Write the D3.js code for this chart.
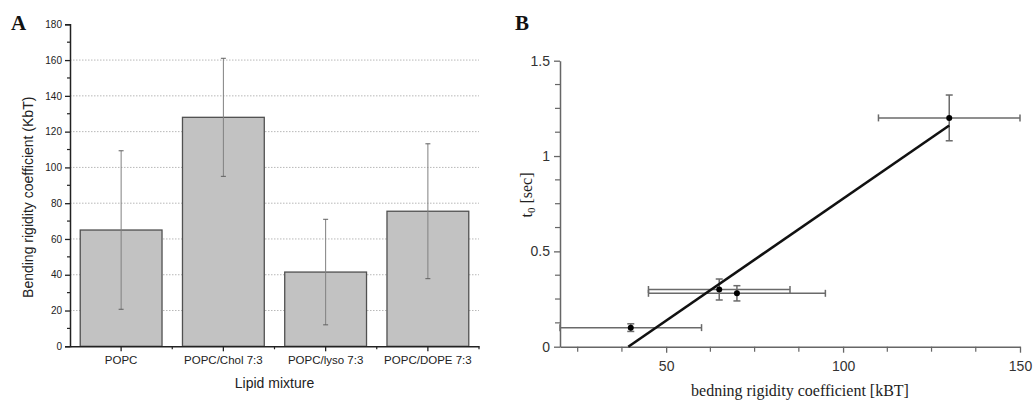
<!DOCTYPE html>
<html>
<head>
<meta charset="utf-8">
<script src="https://cdn.jsdelivr.net/npm/d3@7"></script>
<style>
  html, body { margin: 0; padding: 0; background: #fff; }
  svg { display: block; }
</style>
</head>
<body>
<script>
// ---------- Panel A data ----------
const categories = ["POPC", "POPC/Chol 7:3", "POPC/lyso 7:3", "POPC/DOPE 7:3"];
const bendingMean = [65, 128, 41.5, 75.5];
const bendingErr = [44.3, 33, 29.5, 37.7];
const aYTicks = [0, 20, 40, 60, 80, 100, 120, 140, 160, 180];
const aGridLines = [20, 40, 60, 80, 100, 120, 140, 160];

// ---------- Panel B data ----------
const kappa = [40, 65, 70, 130];
const kappaErr = [20, 20, 25, 20];
const t0 = [0.1, 0.3, 0.28, 1.2];
const t0Err = [0.02, 0.055, 0.04, 0.12];
const fitX = [39.3, 130];
const fitY = [0, 1.16];
const bXMajor = [50, 100, 150];
const bYMajor = [0, 0.5, 1, 1.5];
const bYLabels = ["0", "0.5", "1", "1.5"];

const W = 1035, H = 409;
const svg = d3.select("body").append("svg").attr("width", W).attr("height", H);

// ================= PANEL A =================
const A = { left: 70, right: 479, top: 24.3, bottom: 346.3 };
const ax = d3.scaleBand().domain(categories).range([A.left, A.right]).paddingInner(0.2).paddingOuter(0.1);
const ay = d3.scaleLinear().domain([0, 180]).range([A.bottom, A.top]);
const gA = svg.append("g");

// grid
gA.selectAll("line.grid").data(aGridLines).join("line")
  .attr("x1", A.left).attr("x2", A.right)
  .attr("y1", d => ay(d)).attr("y2", d => ay(d))
  .attr("stroke", "#b8b8b8").attr("stroke-width", 1).attr("stroke-dasharray", "1.5,1.5");

// bars
gA.selectAll("rect.bar").data(categories).join("rect")
  .attr("x", d => ax(d)).attr("width", ax.bandwidth())
  .attr("y", (d, i) => ay(bendingMean[i]))
  .attr("height", (d, i) => ay(0) - ay(bendingMean[i]))
  .attr("fill", "#c2c2c2").attr("stroke", "#505050").attr("stroke-width", 1.3);

// error bars
const aErr = gA.selectAll("g.err").data(categories).join("g");
aErr.append("line")
  .attr("x1", d => ax(d) + ax.bandwidth() / 2).attr("x2", d => ax(d) + ax.bandwidth() / 2)
  .attr("y1", (d, i) => ay(bendingMean[i] + bendingErr[i]))
  .attr("y2", (d, i) => ay(bendingMean[i] - bendingErr[i]))
  .attr("stroke", "#808080").attr("stroke-width", 1);
[1, -1].forEach(s => {
  aErr.append("line")
    .attr("x1", d => ax(d) + ax.bandwidth() / 2 - 2.5).attr("x2", d => ax(d) + ax.bandwidth() / 2 + 2.5)
    .attr("y1", (d, i) => ay(bendingMean[i] + s * bendingErr[i]))
    .attr("y2", (d, i) => ay(bendingMean[i] + s * bendingErr[i]))
    .attr("stroke", "#606060").attr("stroke-width", 1);
});

// y axis A
const ayAxis = gA.append("g").attr("transform", `translate(${A.left},0)`)
  .call(d3.axisLeft(ay).tickValues(aYTicks).tickSize(5).tickPadding(3));
ayAxis.select(".domain").attr("stroke", "#222").attr("stroke-width", 1.5);
ayAxis.selectAll(".tick line").attr("stroke", "#222").attr("stroke-width", 1.3);
ayAxis.selectAll("text").attr("font-family", "Liberation Sans, Arial, sans-serif").attr("font-size", 10).attr("fill", "#222");
const aMinor = d3.range(10, 180, 20);
gA.selectAll("line.yminor").data(aMinor).join("line")
  .attr("x1", A.left - 3).attr("x2", A.left)
  .attr("y1", d => ay(d)).attr("y2", d => ay(d))
  .attr("stroke", "#222").attr("stroke-width", 1.2);

// x axis A
const axAxis = gA.append("g").attr("transform", `translate(0,${A.bottom})`)
  .call(d3.axisBottom(ax).tickSize(5).tickPadding(5).tickSizeOuter(0));
axAxis.select(".domain").attr("stroke", "#222").attr("stroke-width", 1.5);
axAxis.selectAll(".tick line").attr("stroke", "#222").attr("stroke-width", 1.3);
axAxis.selectAll("text").attr("font-family", "Liberation Sans, Arial, sans-serif").attr("font-size", 11.5).attr("fill", "#222");
const bandEdges = categories.slice(1).map(c => ax(c) - ax.step() * ax.paddingInner() / 2).concat([A.right]);
gA.selectAll("line.xminor").data(bandEdges).join("line")
  .attr("x1", d => d).attr("x2", d => d)
  .attr("y1", A.bottom).attr("y2", A.bottom + 3)
  .attr("stroke", "#222").attr("stroke-width", 1.2);

gA.append("text").attr("x", (A.left + A.right) / 2).attr("y", 388)
  .attr("text-anchor", "middle").attr("font-family", "Liberation Sans, Arial, sans-serif")
  .attr("font-size", 14).attr("fill", "#222").text("Lipid mixture");
gA.append("text").attr("transform", `translate(33,${(A.top + A.bottom) / 2 + 12}) rotate(-90)`)
  .attr("text-anchor", "middle").attr("font-family", "Liberation Sans, Arial, sans-serif")
  .attr("font-size", 14).attr("fill", "#222").text("Bending rigidity coefficient (KbT)");
gA.append("text").attr("x", 11).attr("y", 30)
  .attr("font-family", "Liberation Serif, Times New Roman, serif").attr("font-weight", "bold")
  .attr("font-size", 21).attr("fill", "#111").text("A");

// ================= PANEL B =================
const B = { left: 560, right: 1020, top: 60.7, bottom: 346.7 };
const bx = d3.scaleLinear().domain([20, 150]).range([B.left, B.right]);
const by = d3.scaleLinear().domain([0, 1.5]).range([B.bottom, B.top]);
const gB = svg.append("g");
const axisCol = "#666";

// axes
const bxAxis = gB.append("g").attr("transform", `translate(0,${B.bottom})`)
  .call(d3.axisBottom(bx).tickValues(bXMajor).tickSize(6).tickPadding(8).tickSizeOuter(0));
bxAxis.select(".domain").attr("stroke", axisCol).attr("stroke-width", 1.5);
bxAxis.selectAll(".tick line").attr("stroke", axisCol).attr("stroke-width", 1.3);
bxAxis.selectAll("text").attr("font-family", "Liberation Sans, Arial, sans-serif").attr("font-size", 14).attr("fill", "#333");
const bxMinor = d3.range(25, 150, 12.5).filter(v => bXMajor.indexOf(v) < 0);
gB.selectAll("line.bxminor").data(bxMinor).join("line")
  .attr("x1", d => bx(d)).attr("x2", d => bx(d))
  .attr("y1", B.bottom).attr("y2", B.bottom + 5)
  .attr("stroke", axisCol).attr("stroke-width", 1.2);

const byAxis = gB.append("g").attr("transform", `translate(${B.left},0)`)
  .call(d3.axisLeft(by).tickValues(bYMajor).tickFormat((d, i) => bYLabels[i]).tickSize(6).tickPadding(4).tickSizeOuter(0));
byAxis.select(".domain").attr("stroke", axisCol).attr("stroke-width", 1.5);
byAxis.selectAll(".tick line").attr("stroke", axisCol).attr("stroke-width", 1.3);
byAxis.selectAll("text").attr("font-family", "Liberation Sans, Arial, sans-serif").attr("font-size", 14).attr("fill", "#333");
const byMinor = d3.range(0.125, 1.5, 0.125).filter(v => Math.abs(v - 0.5) > 1e-6 && Math.abs(v - 1) > 1e-6);
gB.selectAll("line.byminor").data(byMinor).join("line")
  .attr("x1", B.left - 5).attr("x2", B.left)
  .attr("y1", d => by(d)).attr("y2", d => by(d))
  .attr("stroke", axisCol).attr("stroke-width", 1.2);

// error bars
const errCol = "#6a6a6a";
const pts = kappa.map((k, i) => ({ x: k, xe: kappaErr[i], y: t0[i], ye: t0Err[i] }));
const gE = gB.selectAll("g.pt").data(pts).join("g");
gE.append("line").attr("x1", d => bx(d.x - d.xe)).attr("x2", d => bx(d.x + d.xe))
  .attr("y1", d => by(d.y)).attr("y2", d => by(d.y)).attr("stroke", errCol).attr("stroke-width", 1.5);
gE.append("line").attr("x1", d => bx(d.x - d.xe)).attr("x2", d => bx(d.x - d.xe))
  .attr("y1", d => by(d.y) - 3.5).attr("y2", d => by(d.y) + 3.5).attr("stroke", errCol).attr("stroke-width", 1.5);
gE.append("line").attr("x1", d => bx(d.x + d.xe)).attr("x2", d => bx(d.x + d.xe))
  .attr("y1", d => by(d.y) - 3.5).attr("y2", d => by(d.y) + 3.5).attr("stroke", errCol).attr("stroke-width", 1.5);
gE.append("line").attr("x1", d => bx(d.x)).attr("x2", d => bx(d.x))
  .attr("y1", d => by(d.y + d.ye)).attr("y2", d => by(d.y - d.ye)).attr("stroke", errCol).attr("stroke-width", 1.5);
[1, -1].forEach(s => {
  gE.append("line").attr("x1", d => bx(d.x) - 3.5).attr("x2", d => bx(d.x) + 3.5)
    .attr("y1", d => by(d.y + s * d.ye)).attr("y2", d => by(d.y + s * d.ye))
    .attr("stroke", errCol).attr("stroke-width", 1.5);
});

// fit line
gB.append("path").datum(fitX.map((x, i) => [x, fitY[i]]))
  .attr("d", d3.line().x(d => bx(d[0])).y(d => by(d[1])))
  .attr("stroke", "#111").attr("stroke-width", 2.6).attr("fill", "none");

// points
gE.append("circle").attr("cx", d => bx(d.x)).attr("cy", d => by(d.y)).attr("r", 3).attr("fill", "#000");

// labels
gB.append("text").attr("x", (B.left + B.right) / 2 + 10).attr("y", 396)
  .attr("text-anchor", "middle").attr("font-family", "Liberation Serif, Times New Roman, serif")
  .attr("font-size", 16).attr("fill", "#222").text("bedning rigidity coefficient [kBT]");
const yl = gB.append("text").attr("transform", `translate(532,195) rotate(-90)`)
  .attr("text-anchor", "middle").attr("font-family", "Liberation Serif, Times New Roman, serif")
  .attr("font-size", 16).attr("fill", "#222");
yl.append("tspan").text("t");
yl.append("tspan").attr("font-size", 11).attr("dy", 3).text("0");
yl.append("tspan").attr("dy", -3).text(" [sec]");
gB.append("text").attr("x", 515).attr("y", 30)
  .attr("font-family", "Liberation Serif, Times New Roman, serif").attr("font-weight", "bold")
  .attr("font-size", 21).attr("fill", "#111").text("B");
</script>
</body>
</html>
